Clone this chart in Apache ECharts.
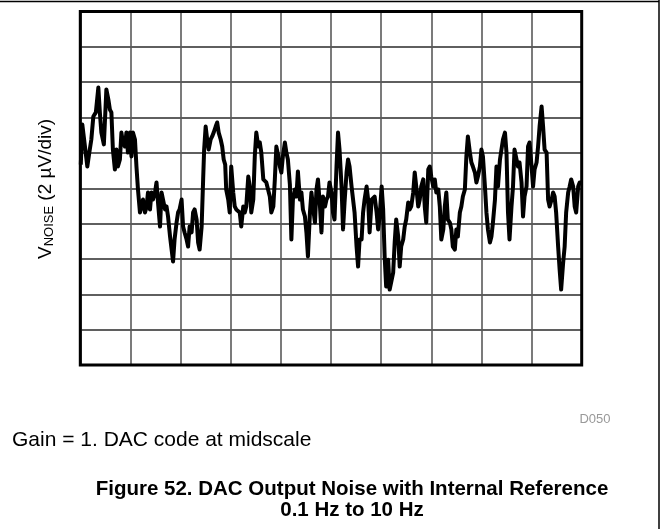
<!DOCTYPE html>
<html>
<head>
<meta charset="utf-8">
<script src="https://cdn.jsdelivr.net/npm/echarts@6/dist/echarts.min.js"></script>
<style>html,body{margin:0;padding:0;background:#fff;}#c{width:662px;height:529px;}</style>
</head>
<body>
<div id="c"></div>
<script>
// time in seconds (10 divisions of 1 s)
const timeS = [
0.01,0.04,0.07,0.10,0.14,0.18,0.22,0.26,0.31,0.36,0.39,0.42,0.47,0.52,0.56,0.59,0.62,0.65,0.69,0.72,
0.75,0.79,0.82,0.85,0.89,0.92,0.95,0.99,1.02,1.05,1.09,1.12,1.15,1.19,1.22,1.25,1.29,1.32,1.35,1.39,
1.42,1.45,1.49,1.52,1.55,1.59,1.62,1.65,1.69,1.72,1.75,1.79,1.85,1.88,1.92,1.95,1.98,2.02,2.05,2.08,
2.12,2.15,2.18,2.22,2.25,2.28,2.32,2.35,2.38,2.42,2.45,2.47,2.50,2.53,2.56,2.60,2.63,2.66,2.70,2.73,
2.76,2.80,2.83,2.86,2.89,2.91,2.95,2.98,3.01,3.05,3.08,3.11,3.18,3.21,3.25,3.28,3.31,3.35,3.38,3.41,
3.45,3.48,3.51,3.55,3.58,3.61,3.65,3.71,3.78,3.81,3.85,3.88,3.91,3.95,3.98,4.01,4.04,4.08,4.11,4.14,
4.18,4.21,4.24,4.28,4.31,4.34,4.38,4.41,4.44,4.48,4.51,4.54,4.58,4.61,4.64,4.68,4.71,4.74,4.78,4.81,
4.84,4.88,4.91,4.94,4.97,5.01,5.04,5.07,5.11,5.14,5.17,5.21,5.24,5.27,5.31,5.34,5.37,5.41,5.44,5.47,
5.51,5.54,5.57,5.61,5.64,5.67,5.71,5.74,5.77,5.81,5.84,5.87,5.91,5.94,5.97,6.01,6.04,6.07,6.10,6.14,
6.17,6.20,6.24,6.27,6.30,6.34,6.37,6.40,6.44,6.47,6.50,6.54,6.57,6.60,6.64,6.67,6.70,6.74,6.77,6.80,
6.84,6.87,6.90,6.94,6.97,7.00,7.04,7.07,7.10,7.14,7.17,7.20,7.24,7.27,7.30,7.33,7.37,7.40,7.43,7.47,
7.50,7.53,7.57,7.60,7.63,7.67,7.70,7.73,7.77,7.80,7.83,7.87,7.90,7.93,7.97,8.00,8.03,8.07,8.10,8.13,
8.17,8.20,8.23,8.27,8.30,8.33,8.37,8.43,8.47,8.50,8.53,8.56,8.60,8.63,8.66,8.70,8.73,8.76,8.80,8.83,
8.86,8.90,8.93,8.96,9.00,9.03,9.06,9.10,9.13,9.16,9.20,9.23,9.26,9.30,9.33,9.36,9.40,9.43,9.46,9.49,
9.53,9.56,9.59,9.63,9.66,9.69,9.73,9.76,9.79,9.83,9.86,9.89,9.93,9.96,9.99
];
// noise voltage in microvolts (2 uV per division)
const noiseUV = [
1.34,3.61,3.72,2.19,1.23,2.02,2.76,4.06,4.29,5.70,4.29,3.15,2.48,5.59,5.02,4.45,4.29,2.19,1.06,2.19,
1.23,1.63,3.15,2.59,2.36,3.15,2.02,3.15,1.80,3.15,2.76,1.23,-0.07,-1.37,-1.03,-0.64,-1.37,-1.09,-0.24,-1.20,
-0.24,-0.64,-0.24,0.33,-0.81,-2.17,-0.24,-0.24,-1.20,-1.03,-1.60,-2.73,-4.15,-2.90,-1.94,-1.37,-1.20,-0.64,-2.17,-2.50,
-2.90,-3.30,-2.17,-2.50,-1.37,-1.20,-1.77,-3.07,-3.47,-2.17,0.50,2.19,3.49,2.76,2.19,2.76,2.93,3.15,3.49,3.72,
3.15,2.76,2.36,1.63,1.34,-0.07,-0.64,-1.37,1.23,-0.24,-1.03,-1.20,-1.37,-2.17,-1.03,-1.37,-1.03,0.66,0.10,-1.37,
-0.64,1.80,3.15,2.36,2.59,2.02,0.50,0.33,-0.47,-1.37,-1.03,0.50,2.36,1.80,1.23,0.89,1.80,2.59,2.02,1.63,
0.21,-2.90,-0.64,-0.07,-0.47,0.95,-0.64,-0.24,-1.20,-1.60,-2.50,-3.86,-1.37,-0.24,-1.03,-1.94,-0.07,0.50,-1.03,-2.50,
-0.47,-1.03,-0.64,-0.47,0.33,-0.24,-1.37,-1.77,1.23,3.15,2.19,0.10,-2.33,-0.81,0.89,1.63,1.23,0.10,-0.64,-1.37,
-3.30,-4.43,-2.90,-2.90,-1.37,-0.64,0.10,-0.64,-2.50,-0.64,-0.64,-0.47,-1.37,-2.33,-1.60,0.10,-1.20,-3.86,-5.56,-4.04,
-5.73,-5.73,-4.77,-3.07,-1.77,-2.73,-4.43,-3.30,-2.90,-2.17,-1.77,-0.81,-1.20,-1.03,-0.24,0.89,0.10,-1.03,-0.64,0.10,
0.50,-1.03,-1.94,1.06,1.23,0.66,0.10,0.50,-0.24,-0.07,-1.03,-2.90,-2.33,-1.03,-0.24,-1.77,-1.94,-2.33,-3.30,-3.47,
-2.33,-2.73,-1.37,-1.03,-0.47,-0.07,1.80,2.93,2.02,1.46,1.23,0.89,0.33,0.66,1.23,2.19,1.80,0.10,-1.37,-2.33,
-3.07,-2.73,-1.94,-0.64,1.23,0.10,1.63,2.76,3.15,2.02,-1.37,-2.90,-1.03,0.10,2.19,1.63,1.23,1.46,0.33,-1.60,
-0.47,0.10,2.36,2.59,1.23,0.10,1.06,1.46,2.36,3.49,4.63,3.49,2.19,2.02,-0.64,-1.03,-0.64,-0.24,-0.47,-1.37,
-3.30,-4.60,-5.73,-4.21,-3.30,-1.37,-0.24,0.10,0.50,0.10,-1.03,-1.37,0.10,0.33,0.33
];
const yAxisTitle = 'V';
const yAxisSub = 'NOISE';
const yAxisUnit = ' (2 µV/div)';
const footnote = 'Gain = 1. DAC code at midscale';
const figId = 'D050';
const titleLines = ['Figure 52. DAC Output Noise with Internal Reference', '0.1 Hz to 10 Hz'];

const chart = echarts.init(document.getElementById('c'), null, {renderer: 'canvas'});
const seriesData = timeS.map((t, i) => [t, noiseUV[i]]);

chart.setOption({
  animation: false,
  backgroundColor: '#fff',
  grid: {left: 80.3, top: 11.5, width: 501.4, height: 353.5, show: true, borderColor: '#000', borderWidth: 3, backgroundColor: 'transparent', z: 5},
  xAxis: {
    type: 'value', min: 0, max: 10, interval: 1,
    axisLine: {show: false}, axisTick: {show: false}, axisLabel: {show: false},
    splitLine: {show: true, lineStyle: {color: '#5a5a5a', width: 1.6}}
  },
  yAxis: {
    type: 'value', min: -10, max: 10, interval: 2,
    axisLine: {show: false}, axisTick: {show: false}, axisLabel: {show: false},
    splitLine: {show: true, lineStyle: {color: '#2a2a2a', width: 1.6}}
  },
  series: [{
    type: 'line', data: seriesData, showSymbol: false, symbol: 'none',
    lineStyle: {color: '#000', width: 4, join: 'round'}, z: 3
  }],
  graphic: [
    {type: 'line', shape: {x1: 0, y1: 1.5, x2: 659, y2: 1.5}, style: {stroke: '#000', lineWidth: 1.5}},
    {type: 'line', shape: {x1: 659, y1: 0, x2: 659, y2: 529}, style: {stroke: '#000', lineWidth: 1.5}},
    {type: 'text', x: 46, y: 189, rotation: Math.PI / 2,
      style: {
        text: '{v|' + yAxisTitle + '}{s|' + yAxisSub + '}{u|' + yAxisUnit + '}',
        align: 'center', verticalAlign: 'middle',
        rich: {
          v: {fontFamily: 'Liberation Sans, Arial', fontSize: 19, fill: '#000', verticalAlign: 'bottom'},
          s: {fontFamily: 'Liberation Sans, Arial', fontSize: 13, fill: '#000', verticalAlign: 'bottom', padding: [0, 0, 0, 0]},
          u: {fontFamily: 'Liberation Sans, Arial', fontSize: 19, fill: '#000', verticalAlign: 'bottom'}
        }
      }},
    {type: 'text', x: 595, y: 419, style: {text: figId, fontFamily: 'Liberation Sans, Arial', fontSize: 13, fill: '#999', align: 'center', verticalAlign: 'middle'}},
    {type: 'text', x: 12, y: 440.5, style: {text: footnote, fontFamily: 'Liberation Sans, Arial', fontSize: 21, fill: '#000', align: 'left', verticalAlign: 'middle'}},
    {type: 'text', x: 352, y: 489, style: {text: titleLines[0], fontFamily: 'Liberation Sans, Arial', fontWeight: 'bold', fontSize: 20.5, fill: '#000', align: 'center', verticalAlign: 'middle'}},
    {type: 'text', x: 352, y: 510.5, style: {text: titleLines[1], fontFamily: 'Liberation Sans, Arial', fontWeight: 'bold', fontSize: 20.5, fill: '#000', align: 'center', verticalAlign: 'middle'}}
  ]
});
</script>
</body>
</html>
